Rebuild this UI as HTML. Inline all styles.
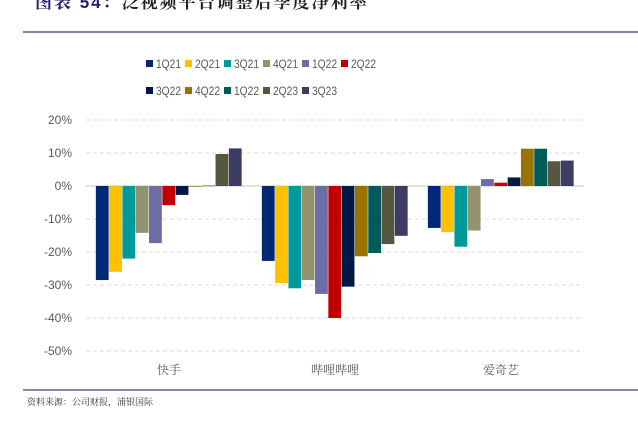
<!DOCTYPE html>
<html><head><meta charset="utf-8"><style>
body{margin:0;width:638px;height:423px;background:#fff;overflow:hidden;position:relative;font-family:"Liberation Sans","Noto Sans CJK SC",sans-serif}
.t{position:absolute;left:35px;top:-12px;font-size:17px;letter-spacing:2px;font-weight:bold;white-space:nowrap;font-family:"Liberation Sans","Noto Serif CJK SC",serif;color:#222}
.t span{color:#1F1F6E}
.rule{position:absolute;left:23px;right:0;height:1.5px;background:#8585b0}
.src{position:absolute;left:27px;top:395px;font-size:9px;color:#333;font-family:"Liberation Sans","Noto Serif CJK SC",serif}
svg{position:absolute;left:0;top:0}
</style></head><body>
<div class="t"><span>图表 54：</span>泛视频平台调整后季度净利率</div>
<div class="rule" style="top:31px"></div>
<div class="rule" style="top:389px"></div>
<div class="src">资料来源：公司财报，浦银国际</div>
<svg id="c" width="638" height="423"></svg>
<script>
const categories=["快手","哔哩哔哩","爱奇艺"];
const seriesNames=["1Q21","2Q21","3Q21","4Q21","1Q22","2Q22","3Q22","4Q22","1Q22","2Q23","3Q23"];
const s1Q21=[-28.5,-22.7,-12.7];
const s2Q21=[-26,-29.4,-14];
const s3Q21=[-22,-31,-18.4];
const s4Q21=[-14.2,-28.5,-13.5];
const s1Q22=[-17.3,-32.7,2.1];
const s2Q22=[-5.8,-40,1];
const s3Q22=[-2.7,-30.5,2.6];
const s4Q22=[-0.2,-21.3,11.3];
const s1Q22b=[0.1,-20.3,11.3];
const s2Q23=[9.7,-17.6,7.5];
const s3Q23=[11.4,-15.1,7.7];
const yTicks=[20,10,0,-10,-20,-30,-40,-50];
const yTickLabels=["20%","10%","0%","-10%","-20%","-30%","-40%","-50%"];
const series=[s1Q21,s2Q21,s3Q21,s4Q21,s1Q22,s2Q22,s3Q22,s4Q22,s1Q22b,s2Q23,s3Q23];
const colors=["#002874","#FFC000","#009999","#939370","#6C6CA6","#C00000","#001848","#997300","#005A5A","#565641","#3D3D63"];
const NS="http://www.w3.org/2000/svg";
const svg=document.getElementById('c');
const x0=86,x1=584,yTop=120,yBot=351,vMax=20,vMin=-50;
const y=v=>yTop+(vMax-v)/(vMax-vMin)*(yBot-yTop);
const gw=(x1-x0)/categories.length, bw=13.3;
const gx=i=>x0+i*gw+(gw-bw*series.length)/2;
function mk(t,a){const e=document.createElementNS(NS,t);for(const k in a)e.setAttribute(k,a[k]);svg.appendChild(e);return e;}
yTicks.forEach((v,i)=>{
  const l=mk('line',{x1:x0,x2:x1,y1:y(v),y2:y(v),stroke:'#d9d9d9','stroke-width':v===0?1.5:1,'stroke-dasharray':v===0?'':'4,3'});
  
  
  const t=mk('text',{x:72,y:y(v)+4,'text-anchor':'end','font-size':12,fill:'#595959'});
  t.textContent=yTickLabels[i];
  
  
});
categories.forEach((c,i)=>{
  series.forEach((s,j)=>{
    const v=s[i];
    const r=mk('rect',{x:gx(i)+j*bw,y:Math.min(y(v),y(0)),width:bw-0.5,height:Math.max(Math.abs(y(v)-y(0)),0.5),fill:colors[j]});
    
    
  });
  const t=mk('text',{x:x0+(i+0.5)*gw,y:374,'text-anchor':'middle','font-size':12,fill:'#595959','font-family':'"Liberation Serif","Noto Serif CJK SC",serif'});
  t.textContent=c;
  
  
});
const rows=[[0,6,146,64],[6,11,146,91]];
rows.forEach(([a,b,sx,sy])=>{
  let x=sx;
  for(let j=a;j<b;j++){
    const r=mk('rect',{x:x,y:sy-4,width:7,height:7,fill:colors[j]});
    
    
    const t=mk('text',{x:x+10,y:sy+4,'font-size':12,fill:'#595959',textLength:25,lengthAdjust:'spacingAndGlyphs'});
    t.textContent=seriesNames[j];
    
    
    x+=39;
  }
});
</script>
</body></html>
